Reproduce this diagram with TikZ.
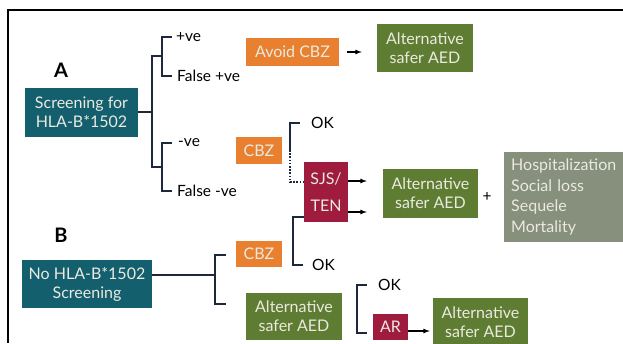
\documentclass[tikz,border=0pt]{standalone}
\usepackage{fontspec}
\setmainfont{Lato}
\usetikzlibrary{positioning}

\definecolor{screenteal}{RGB}{20,95,110}
\definecolor{cbzorange}{RGB}{232,128,48}
\definecolor{aedgreen}{RGB}{95,125,50}
\definecolor{sjsred}{RGB}{160,28,62}
\definecolor{outgrey}{RGB}{135,143,125}
\definecolor{boxtext}{RGB}{234,234,224}
\definecolor{brackblue}{RGB}{30,40,60}

\tikzset{
    box/.style={inner sep=0pt, align=center, text=boxtext,
        font=\fontsize{16}{19}\selectfont},
    lbl/.style={inner sep=0pt, font=\fontsize{15.5}{17}\selectfont},
    lettr/.style={inner sep=0pt, font=\fontsize{20}{24}\selectfont\bfseries},
    br/.style={draw=brackblue, line width=1.6pt},
    arr/.style={->, line width=1.2pt}
}

\begin{document}
\begin{tikzpicture}[x=1pt,y=-1pt,>=latex]
    \clip (0,0) rectangle (623,343);
    \draw [line width=1.8pt] (623,10) -- (8,10) -- (8,343);

    \node [lettr] (labA) at (61,70) {A};
    \node [lettr] (labB) at (61,235) {B};

    % A: with screening
    \node [box, fill=screenteal, minimum width=113, minimum height=49] (scrA) at (81.5,112) {Screening for\\HLA-B*1502};
    \coordinate (brA) at (152,112);
    \coordinate (mA1) at (162,56);
    \coordinate (mA2) at (162,167);
    \draw [br] (scrA) -- (brA);
    \draw [br] (mA1) -- ++(-10,0) |- (mA2);

    \coordinate (tA1) at (172,37);
    \coordinate (tA2) at (172,76);
    \coordinate (tA3) at (172,143);
    \coordinate (tA4) at (172,191);
    \draw [br] (tA1) -- ++(-10,0) |- (tA2);
    \draw [br] (tA3) -- ++(-10,0) |- (tA4);
    \node [lbl, right=4pt of tA1] (posA) {+ve};
    \node [lbl, right=5pt of tA2] (fposA) {False +ve};
    \node [lbl, right=6pt of tA3] (negA) {-ve};
    \node [lbl, right=5pt of tA4] (fnegA) {False -ve};

    \node [box, fill=cbzorange, minimum width=93, minimum height=28] (avoid) at (292.5,52) {Avoid CBZ};
    \node [box, fill=aedgreen, minimum width=96, minimum height=48] (altA) at (425,48) {Alternative\\safer AED};
    \draw [arr, shorten <=8pt, shorten >=15pt] (avoid.east) -- (avoid.east -| altA.west);

    \node [box, fill=cbzorange, minimum width=46, minimum height=27] (cbzA) at (259,150.5) {CBZ};
    \node [box, fill=sjsred, minimum width=44, minimum height=60,
        font=\fontsize{16}{27}\selectfont] (sjs) at (326,192) {SJS/\\TEN};
    \coordinate (tOK1) at (300,123);
    \coordinate (dA) at (290,150);
    \draw [br] (tOK1) -| (dA);
    \draw [br, dash pattern=on 1.6pt off 1.6pt] (dA) |- ([yshift=10pt]sjs.west);
    \node [lbl, right=11pt of tOK1] (okA) {OK};

    \node [box, fill=aedgreen, minimum width=95, minimum height=49] (alt2) at (430.5,193.5) {Alternative\\safer AED};
    \draw [arr, shorten >=16pt] ([yshift=11pt]sjs.east) -- ([yshift=11pt]sjs.east -| alt2.west);
    \draw [arr, shorten >=16pt] ([yshift=-20pt]sjs.east) -- ([yshift=-20pt]sjs.east -| alt2.west);
    \node [lbl] (plus) at (487,197) {+};
    \node [box, fill=outgrey, anchor=west, text width=112, inner xsep=7pt,
        minimum height=90, align=left, font=\fontsize{16}{20.5}\selectfont]
        (cost) at (504,197) {Hospitalization\\Social loss\\Sequele\\Mortality};

    % B: no screening
    \node [box, fill=screenteal, minimum width=130, minimum height=48] (scrB) at (87,284) {No HLA-B*1502\\Screening};
    \coordinate (brB) at (215,275);
    \coordinate (bB1) at (226,255);
    \coordinate (bB2) at (226,304);
    \draw [br] ([yshift=9pt]scrB.east) -- (brB);
    \draw [br] (bB1) -- ++(-11,0) |- (bB2);
    \node [box, fill=cbzorange, minimum width=46, minimum height=26] (cbzB) at (259,254) {CBZ};
    \node [box, fill=aedgreen, minimum width=96, minimum height=47] (altB) at (294,316.5) {Alternative\\safer AED};

    \coordinate (tOK2) at (303,265);
    \draw [br] (tOK2) -- ++(-10,0) |- ([yshift=-25pt]sjs.west);
    \node [lbl, right=9pt of tOK2] (okB) {OK};

    \coordinate (bC1) at (367,285);
    \coordinate (bC2) at (367,333);
    \draw [br] (bC1) -- ++(-10,0) |- (bC2);
    \node [lbl, right=11pt of bC1] (okC) {OK};
    \node [box, fill=sjsred, minimum width=35, minimum height=26] (ar) at (390.5,327) {AR};
    \node [box, fill=aedgreen, minimum width=95, minimum height=48] (altC) at (480.5,322) {Alternative\\safer AED};
    \draw [arr, shorten >=3pt] ([yshift=-4pt]ar.east) -- ([yshift=-4pt]ar.east -| altC.west);
\end{tikzpicture}
\end{document}
